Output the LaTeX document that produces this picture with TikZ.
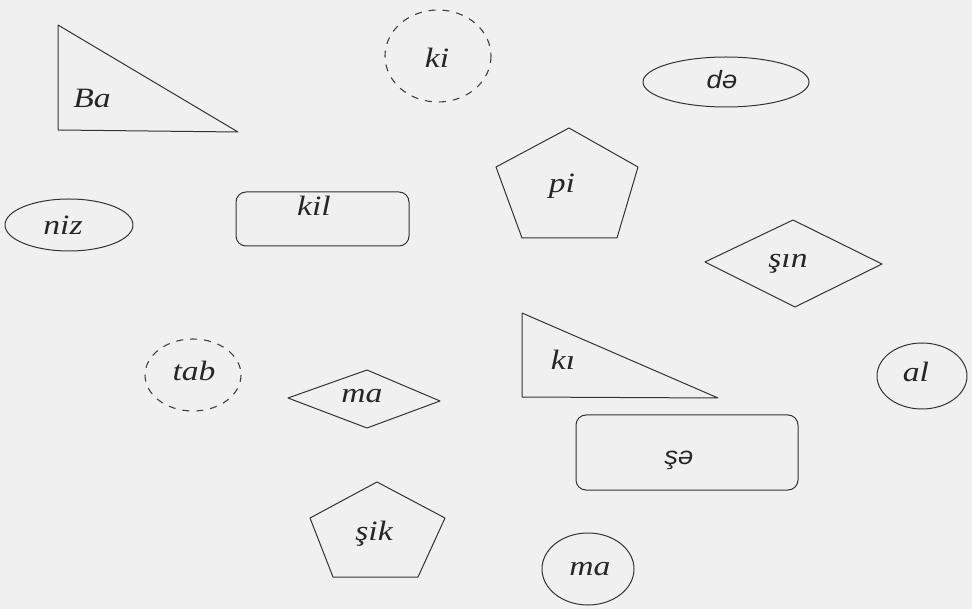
\documentclass[tikz,border=0pt]{standalone}
\usepackage{fontspec}
\newfontfamily\lblserif[FakeStretch=1.2]{Liberation Serif}
\newfontfamily\lblsans[FakeStretch=1.1]{Liberation Sans}
\begin{document}
\begin{tikzpicture}[x=1pt,y=-1pt,
  shapeline/.style={draw=black!80, line width=1pt, line join=round},
  dashline/.style={draw=black!75, line width=1.1pt, dash pattern=on 7pt off 7pt},
  syl/.style={font=\fontsize{28}{31}\selectfont\lblserif\itshape, text=black!85, inner sep=0pt},
  sylsans/.style={font=\fontsize{25}{28}\selectfont\lblsans\itshape, text=black!85, inner sep=0pt}]
\fill[black!6] (0,0) rectangle (972,609);
\useasboundingbox (0,0) rectangle (972,609);
% Ba triangle
\draw[shapeline] (58,25) -- (58,130) -- (238,132) -- cycle;
\node[syl] (ba) at (92,98) {Ba};
% ki dashed circle
\draw[dashline] (438,56) ellipse [x radius=53, y radius=46];
\node[syl] (ki) at (437,58) {ki};
% de ellipse
\draw[shapeline] (726,82) ellipse [x radius=83, y radius=25];
\node[sylsans] (de) at (722,80) {də};
% pi pentagon
\draw[shapeline] (569,128) -- (638,167) -- (617,238) -- (522,238) -- (496,167) -- cycle;
\node[syl] (pi) at (562,186) {pi};
% niz ellipse
\draw[shapeline] (69,225) ellipse [x radius=64, y radius=26];
\node[syl] (niz) at (63,225) {niz};
% kil rounded rectangle
\draw[shapeline, rounded corners=10pt] (236,192) rectangle (409,246);
\node[syl] (kil) at (314,206) {kil};
% sin diamond
\draw[shapeline] (705,262) -- (793,220) -- (882,264) -- (795,307) -- cycle;
\node[syl] (sin) at (788,264) {şın};
% tab dashed circle
\draw[dashline] (193,375) ellipse [x radius=48, y radius=36];
\node[syl] (tab) at (194,371) {tab};
% ma diamond
\draw[shapeline] (288,398) -- (367,370) -- (440,401) -- (367,428) -- cycle;
\node[syl] (ma1) at (362,396) {ma};
% ki triangle
\draw[shapeline] (522,313) -- (522,397) -- (718,398) -- cycle;
\node[syl] (kii) at (563,360) {kı};
% al ellipse
\draw[shapeline] (922,376) ellipse [x radius=45, y radius=33];
\node[syl] (al) at (916,372) {al};
% se rounded rectangle
\draw[shapeline, rounded corners=10pt] (576,415) rectangle (798,490);
\node[sylsans] (se) at (679,460) {şə};
% sik pentagon
\draw[shapeline] (377,482) -- (445,518) -- (418,577) -- (333,577) -- (310,518) -- cycle;
\node[syl] (sik) at (374,534) {şik};
% ma ellipse
\draw[shapeline] (588,569) ellipse [x radius=46, y radius=36];
\node[syl] (ma2) at (590,569) {ma};
\end{tikzpicture}
\end{document}
